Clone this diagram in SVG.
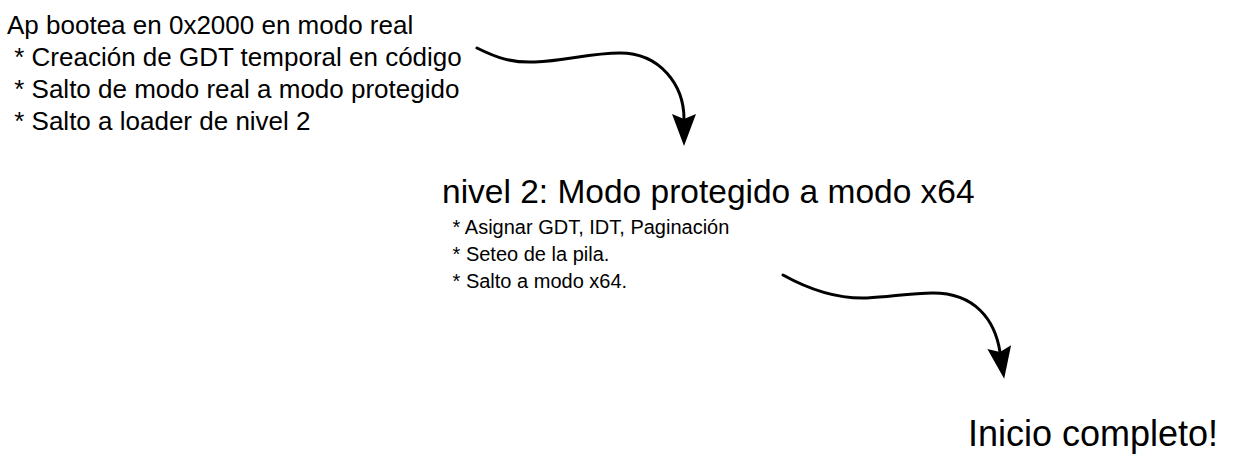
<svg xmlns="http://www.w3.org/2000/svg" width="1234" height="454" viewBox="0 0 1234 454">
  <style>
    text { font-family: "Liberation Sans", Arial, Helvetica, sans-serif; fill: #000; white-space: pre; }
    .t1 { font-size: 26px; }
    .h2 { font-size: 33.5px; }
    .s2 { font-size: 20px; }
    .h3 { font-size: 36px; }
    .conn { fill: none; stroke: #000; stroke-width: 3; stroke-linecap: round; }
  </style>
  <defs>
    <marker id="arrow" viewBox="0 0 32 24" markerWidth="32" markerHeight="24" refX="5" refY="12" orient="auto" markerUnits="userSpaceOnUse">
      <path d="M0,0 L32,12 L0,24 L5,12 Z" fill="#000"/>
    </marker>
  </defs>
  <rect width="1234" height="454" fill="#fff"/>
  <g id="node-boot">
    <text class="t1" x="7" y="34">Ap bootea en 0x2000 en modo real</text>
    <text class="t1" x="7" y="66" xml:space="preserve"> * Creación de GDT temporal en código</text>
    <text class="t1" x="7" y="98" xml:space="preserve"> * Salto de modo real a modo protegido</text>
    <text class="t1" x="7" y="130" xml:space="preserve"> * Salto a loader de nivel 2</text>
  </g>
  <g id="node-nivel2">
    <text class="h2" x="442" y="203">nivel 2: Modo protegido a modo x64</text>
    <text class="s2" x="447" y="234" xml:space="preserve"> * Asignar GDT, IDT, Paginación</text>
    <text class="s2" x="447" y="261" xml:space="preserve"> * Seteo de la pila.</text>
    <text class="s2" x="447" y="288" xml:space="preserve"> * Salto a modo x64.</text>
  </g>
  <g id="node-done">
    <text class="h3" x="968" y="446">Inicio completo!</text>
  </g>
  <g id="connectors">
    <path class="conn" d="M477,48 C497,58 512,63 535,62 C565,61 590,53 620,53 C660,53 684,85 684,119" marker-end="url(#arrow)"/>
    <path class="conn" d="M783,275 C810,290 840,299 867,298 C890,297 910,293 933,293 C975,293 995,320 1000,352" marker-end="url(#arrow)"/>
  </g>
</svg>
